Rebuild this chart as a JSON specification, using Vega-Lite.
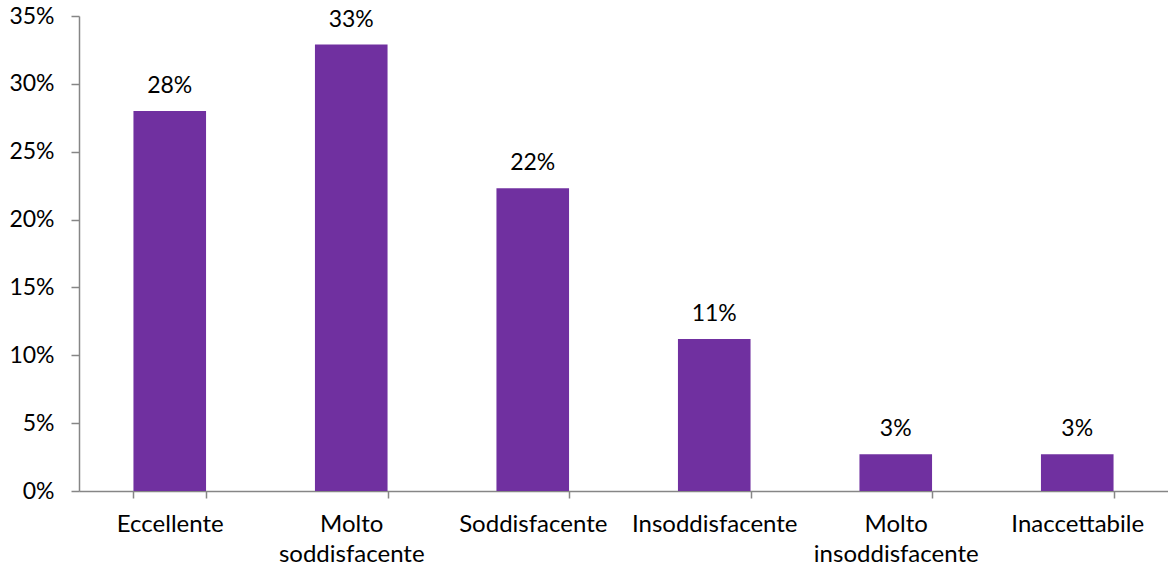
{
  "$schema": "https://vega.github.io/schema/vega-lite/v6.json",
  "width": 1089,
  "height": 475,
  "autosize": "none",
  "padding": {"left": 79, "top": 16, "right": 0, "bottom": 82},
  "background": "white",
  "config": {"view": {"stroke": null}, "font": "Lato"},
  "data": {
    "values": [
      {"cat": "Eccellente", "v": 0.280},
      {"cat": "Molto soddisfacente", "v": 0.329},
      {"cat": "Soddisfacente", "v": 0.223},
      {"cat": "Insoddisfacente", "v": 0.112},
      {"cat": "Molto insoddisfacente", "v": 0.027},
      {"cat": "Inaccettabile", "v": 0.027}
    ]
  },
  "encoding": {
    "x": {
      "field": "cat",
      "type": "nominal",
      "sort": null,
      "title": null,
      "scale": {"paddingInner": 0.6, "paddingOuter": 0.3},
      "axis": {
        "labelAngle": 0,
        "labelExpr": "split(datum.label, ' ')",
        "labelFont": "Lato",
        "labelFontSize": 24,
        "labelColor": "#000000",
        "labelLineHeight": 30,
        "labelPadding": 14,
        "labelBaseline": "top",
        "tickBand": "extent",
        "tickSize": 7,
        "tickColor": "#868686",
        "domainColor": "#868686",
        "domainWidth": 1.5,
        "tickWidth": 1.5,
        "labelLimit": 300
      }
    },
    "y": {
      "field": "v",
      "type": "quantitative",
      "title": null,
      "scale": {"domain": [0, 0.35]},
      "axis": {
        "values": [0, 0.05, 0.1, 0.15, 0.2, 0.25, 0.3, 0.35],
        "format": ".0%",
        "grid": false,
        "labelFont": "Lato",
        "labelFontSize": 23,
        "labelColor": "#000000",
        "labelPadding": 17,
        "tickSize": 8,
        "tickColor": "#868686",
        "domainColor": "#868686",
        "domainWidth": 1.5,
        "tickWidth": 1.5
      }
    }
  },
  "layer": [
    {"mark": {"type": "bar", "color": "#7030A0"}},
    {
      "mark": {"type": "text", "baseline": "alphabetic", "dy": -18, "fontSize": 23, "font": "Lato", "color": "#000000"},
      "encoding": {"text": {"field": "v", "type": "quantitative", "format": ".0%"}}
    }
  ]
}
